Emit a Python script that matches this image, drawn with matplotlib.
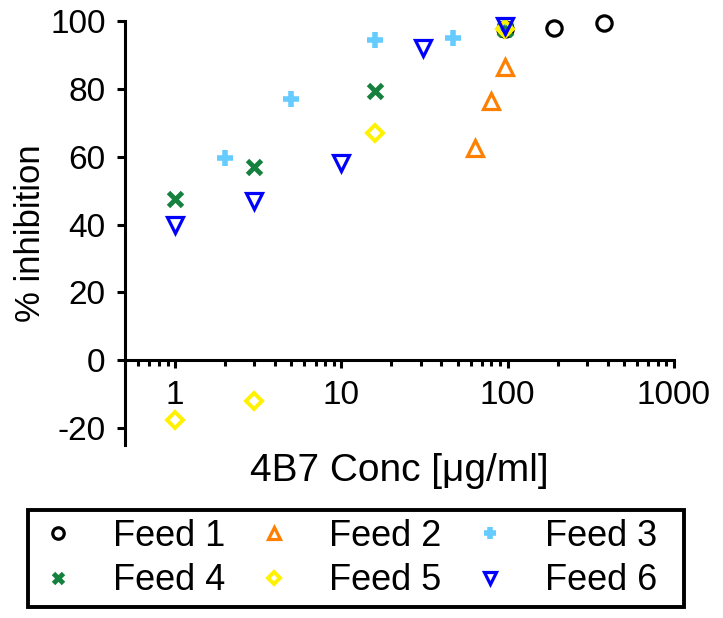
import matplotlib
matplotlib.use('Agg')
import matplotlib.pyplot as plt
from matplotlib.patches import Rectangle
from matplotlib.ticker import LogLocator, NullFormatter, FixedLocator

plt.rcParams['font.family'] = ['Liberation Sans', 'DejaVu Sans']

# data
feed1_x = [96, 190, 380]
feed1_y = [97.5, 98, 99.5]
feed2_x = [64, 79, 96]
feed2_y = [62.5, 76.5, 86.5]
feed3_x = [2, 5, 16, 47, 96]
feed3_y = [59.5, 77, 94.5, 95, 98]
feed4_x = [1, 3, 16, 96]
feed4_y = [47.5, 57, 79.5, 97.5]
feed5_x = [1, 3, 16, 96]
feed5_y = [-17.5, -12, 67, 97.5]
feed6_x = [1, 3, 10, 31, 96]
feed6_y = [40, 47, 58, 92, 98.5]

labels = ['Feed 1', 'Feed 2', 'Feed 3', 'Feed 4', 'Feed 5', 'Feed 6']
xticks = [1, 10, 100, 1000]
yticks = [-20, 0, 20, 40, 60, 80, 100]

fig = plt.figure(figsize=(7.23, 6.18), dpi=100)
ax = fig.add_axes([0.173, 0.280, 0.759, 0.686])

ms = 11
mew = 2.3
lw = 2.2

h1, = ax.plot(feed1_x, feed1_y, 'o', ls='none', mfc='none', mec='black', ms=ms, mew=mew, label=labels[0], clip_on=False)
h2, = ax.plot(feed2_x, feed2_y, '^', ls='none', mfc='none', mec='#FF7F00', ms=ms, mew=mew, label=labels[1], clip_on=False)
h3, = ax.plot(feed3_x, feed3_y, '+', ls='none', color='#66CCFF', ms=ms, mew=4, label=labels[2], clip_on=False)
h4, = ax.plot(feed4_x, feed4_y, 'x', ls='none', color='#16803F', ms=ms - 1, mew=3.5, label=labels[3], clip_on=False)
h5, = ax.plot(feed5_x, feed5_y, 'D', ls='none', mfc='none', mec='#FFF200', ms=ms - 2.5, mew=mew + 0.5, label=labels[4], clip_on=False)
h6, = ax.plot(feed6_x, feed6_y, 'v', ls='none', mfc='none', mec='#0000FF', ms=ms, mew=mew, label=labels[5], clip_on=False)

ax.set_xscale('log')
ax.set_xlim(0.5, 1000)
ax.set_ylim(-25, 100)

ax.spines['top'].set_visible(False)
ax.spines['right'].set_visible(False)
ax.spines['bottom'].set_position(('data', 0))
ax.spines['left'].set_linewidth(lw)
ax.spines['bottom'].set_linewidth(lw)

ax.xaxis.set_major_locator(FixedLocator(xticks))
ax.set_xticklabels([str(t) for t in xticks])
ax.xaxis.set_minor_locator(LogLocator(base=10, subs=range(2, 10), numticks=20))
ax.xaxis.set_minor_formatter(NullFormatter())
ax.set_yticks(yticks)
ax.set_yticklabels([str(t) for t in yticks])

ax.tick_params(axis='both', which='major', direction='out', length=6, width=lw, labelsize=24, pad=8)
ax.tick_params(axis='x', which='minor', direction='out', length=4, width=lw)

ax.set_ylabel('% inhibition', fontsize=25, labelpad=2)
ax.set_xlabel('4B7 Conc [\u03bcg/ml]', fontsize=28)
ax.xaxis.set_label_coords(0.5, -0.02)

# legend rows: Feed 1-3 on top, Feed 4-6 below; the box is drawn separately
handles = [h1, h4, h2, h5, h3, h6]
leg = fig.legend(handles, [h.get_label() for h in handles],
                 loc='upper left', bbox_to_anchor=(0.060, 0.160),
                 ncol=3, fontsize=26, frameon=False,
                 handlelength=0.8, handletextpad=1.12, columnspacing=0.95,
                 borderpad=0, labelspacing=0.25, markerscale=0.75,
                 borderaxespad=0)
fig.patches.append(Rectangle((0.039, 0.0178), 0.907, 0.157, transform=fig.transFigure,
                             fill=False, edgecolor='black', linewidth=2.8))

fig.savefig('out.png', dpi=100)
